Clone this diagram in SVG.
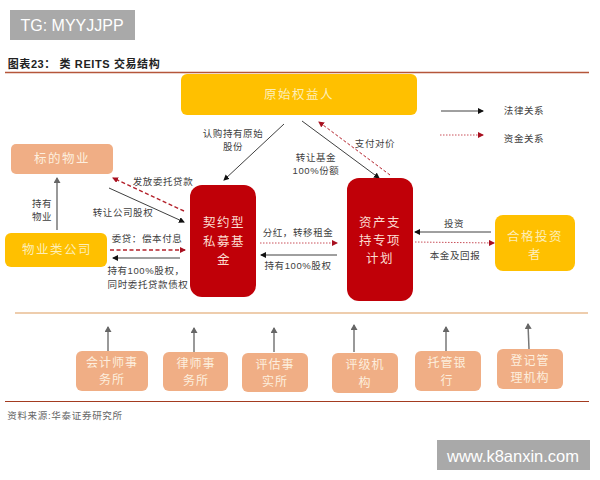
<svg xmlns="http://www.w3.org/2000/svg" width="600" height="480" viewBox="0 0 600 480">
<style>
text{font-family:"Liberation Sans","Noto Sans CJK SC",sans-serif;text-anchor:middle;dominant-baseline:central}
.l{font-size:9.5px;fill:#404040;letter-spacing:.6px}
.n{font-size:12.5px;letter-spacing:1.5px;fill:#fdeeb8}
.w{font-size:12.5px;letter-spacing:1.5px;fill:#fbdcd0}
.p{font-size:12.5px;letter-spacing:1.5px;fill:#fdeede}
.b{font-size:12px;letter-spacing:1px;fill:#fdeede}
.c{fill:none;stroke-width:1}
.k{stroke:#404040;marker-end:url(#ak)}
.g{stroke:#777;stroke-width:1.5;marker-end:url(#ag)}
.r{stroke:#b3202a;stroke-dasharray:3 2;marker-end:url(#ar)}
.rb{stroke:#b3202a;stroke-width:1.4;stroke-dasharray:4 2.5;marker-end:url(#ar)}
.d{stroke:#c9505a;stroke-dasharray:1.5 1.5;marker-end:url(#ar)}
.o{fill:#F0AE85}.y{fill:#FFC000}.m{fill:#C00008}
</style>
<defs>
<marker id="ak" markerWidth="6" markerHeight="6" refX="5" refY="3" orient="auto" markerUnits="userSpaceOnUse"><path d="M0,0L6,3L0,6Z" fill="#111"/></marker>
<marker id="ag" markerWidth="6" markerHeight="7" refX="5" refY="3.5" orient="auto" markerUnits="userSpaceOnUse"><path d="M0,0L6,3.5L0,7Z" fill="#666"/></marker>
<marker id="ar" markerWidth="6" markerHeight="6" refX="5" refY="3" orient="auto" markerUnits="userSpaceOnUse"><path d="M0,0L6,3L0,6Z" fill="#a81020"/></marker>
</defs>
<rect width="600" height="480" fill="#fff"/>
<g id="watermark-top"><rect x="10" y="10" width="125" height="30" fill="#a9a9a9"/><text x="72" y="25" font-size="16" fill="#fff">TG: MYYJJPP</text></g>
<g id="title"><text x="84" y="64" font-size="11" font-weight="bold" fill="#222" letter-spacing=".6">图表23： 类 REITS 交易结构</text><line x1="5" y1="72.5" x2="589" y2="72.5" stroke="#b5563a" stroke-width="1.5"/></g>
<g id="connectors">
<line class="c k" x1="284" y1="124" x2="224" y2="180"/>
<line class="c k" x1="302" y1="121" x2="379" y2="178"/>
<line class="c r" x1="390" y1="175" x2="319" y2="122"/>
<line class="c k" x1="441" y1="111" x2="483" y2="111"/>
<line class="c d" x1="440" y1="135" x2="483" y2="135"/>
<line class="c g" x1="57" y1="230" x2="57" y2="178"/>
<line class="c rb" x1="184" y1="211" x2="113" y2="178"/>
<line class="c k" x1="109" y1="188" x2="184" y2="222"/>
<line class="c rb" x1="110" y1="250" x2="185" y2="250"/>
<line class="c k" x1="180" y1="258" x2="113" y2="258"/>
<line class="c d" x1="260" y1="243" x2="337" y2="243"/>
<line class="c k" x1="337" y1="255" x2="261" y2="255"/>
<line class="c k" x1="491" y1="232" x2="415" y2="232"/>
<line class="c d" x1="415" y1="242" x2="494" y2="243"/>
<line class="c g" x1="108" y1="351" x2="108" y2="327"/>
<line class="c g" x1="194" y1="352" x2="194" y2="328"/>
<line class="c g" x1="274" y1="352" x2="274" y2="328"/>
<line class="c g" x1="354" y1="352" x2="354" y2="325"/>
<line class="c g" x1="446" y1="351" x2="446" y2="327"/>
<line class="c g" x1="529" y1="349" x2="528" y2="324"/>
</g>
<g id="labels">
<text class="l" x="233" y="133">认购持有原始</text><text class="l" x="233" y="146">股份</text>
<text class="l" x="316" y="157">转让基金</text><text class="l" x="316" y="170">100%份额</text>
<text class="l" x="375" y="143">支付对价</text>
<text class="l" x="163" y="181">发放委托贷款</text>
<text class="l" x="123" y="212">转让公司股权</text>
<text class="l" x="42" y="203">持有</text><text class="l" x="42" y="216">物业</text>
<text class="l" x="147" y="238">委贷：偿本付息</text>
<text class="l" x="146" y="270">持有100%股权，</text><text class="l" x="148" y="284">同时委托贷款债权</text>
<text class="l" x="298" y="232">分红，转移租金</text>
<text class="l" x="298" y="265">持有100%股权</text>
<text class="l" x="454" y="223">投资</text>
<text class="l" x="455" y="255">本金及回报</text>
<text class="l" x="524" y="110">法律关系</text>
<text class="l" x="524" y="138">资金关系</text>
</g>
<g id="n-origin"><rect class="y" x="181" y="74" width="236" height="41" rx="6"/><text class="n" x="299" y="95">原始权益人</text></g>
<g id="n-property"><rect class="o" x="11" y="144" width="102" height="30" rx="5"/><text class="p" x="62" y="159">标的物业</text></g>
<g id="n-company"><rect class="y" x="5" y="233" width="102" height="34" rx="6"/><text class="n" x="57" y="250">物业类公司</text></g>
<g id="n-fund"><rect class="m" x="190" y="185" width="66" height="112" rx="12"/><text class="w" x="224" y="223">契约型</text><text class="w" x="224" y="242">私募基</text><text class="w" x="224" y="260">金</text></g>
<g id="n-plan"><rect class="m" x="347" y="178" width="66" height="123" rx="12"/><text class="w" x="380" y="223">资产支</text><text class="w" x="380" y="241">持专项</text><text class="w" x="380" y="259">计划</text></g>
<g id="n-investor"><rect class="y" x="495" y="215" width="80" height="56" rx="8"/><text class="n" x="535" y="237">合格投资</text><text class="n" x="535" y="255">者</text></g>
<line id="divider" x1="15" y1="313" x2="588" y2="313" stroke="#E8BC92" stroke-width="1.5"/>
<g id="n-accountant"><rect class="o" x="76" y="351" width="72" height="40" rx="6"/><text class="b" x="112" y="363">会计师事</text><text class="b" x="112" y="380">务所</text></g>
<g id="n-lawyer"><rect class="o" x="163" y="352" width="65" height="39" rx="6"/><text class="b" x="196" y="364">律师事</text><text class="b" x="196" y="381">务所</text></g>
<g id="n-appraiser"><rect class="o" x="242" y="353" width="66" height="39" rx="6"/><text class="b" x="275" y="365">评估事</text><text class="b" x="275" y="382">实所</text></g>
<g id="n-rating"><rect class="o" x="332" y="353" width="66" height="40" rx="6"/><text class="b" x="365" y="365">评级机</text><text class="b" x="365" y="383">构</text></g>
<g id="n-custodian"><rect class="o" x="415" y="351" width="66" height="40" rx="6"/><text class="b" x="447" y="363">托管银</text><text class="b" x="447" y="381">行</text></g>
<g id="n-registrar"><rect class="o" x="497" y="349" width="66" height="40" rx="6"/><text class="b" x="530" y="361">登记管</text><text class="b" x="530" y="378">理机构</text></g>
<g id="footer"><line x1="5" y1="401.5" x2="589" y2="401.5" stroke="#a33b20" stroke-width="1"/><text x="65" y="415" font-size="9.5" fill="#666" letter-spacing=".7">资料来源:华泰证券研究所</text></g>
<g id="watermark-bottom"><rect x="437" y="440" width="153" height="30" fill="#a9a9a9"/><text x="513" y="456" font-size="16.5" fill="#fff">www.k8anxin.com</text></g>
</svg>
